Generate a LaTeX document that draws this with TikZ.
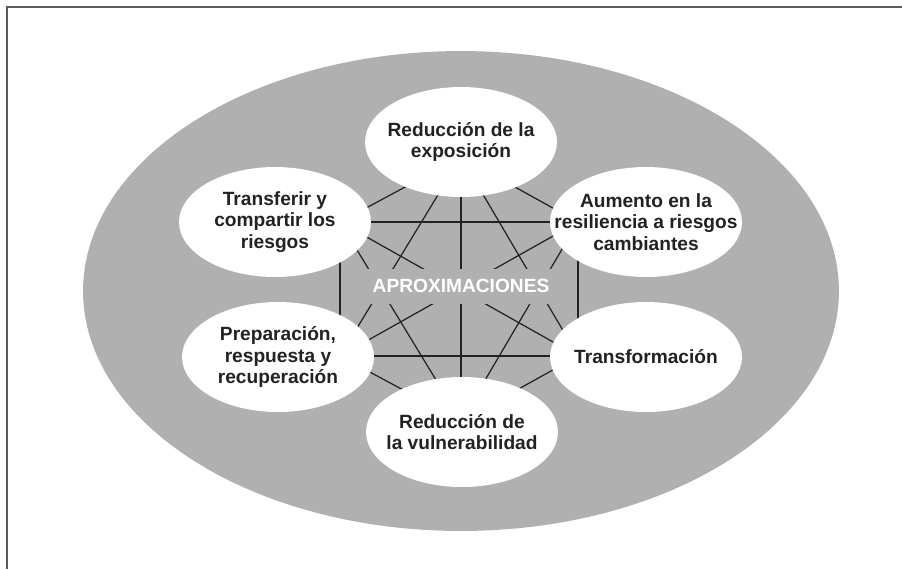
\documentclass[tikz,border=0pt]{standalone}
\usepackage{fontspec}
\setmainfont{Liberation Sans}
\usetikzlibrary{shapes.geometric}
\definecolor{ringgray}{RGB}{176,176,176}
\definecolor{inkgray}{RGB}{34,34,34}
\definecolor{framegray}{RGB}{90,90,90}
\tikzset{
  blob/.style={ellipse, fill=white, minimum width=3.84cm, minimum height=2.2cm, inner sep=0pt},
  txt/.style={align=center, font=\fontsize{10.9}{12.1}\selectfont\bfseries, text=inkgray, inner sep=0pt},
  link/.style={draw=inkgray, line width=0.7pt},
}
\begin{document}
\begin{tikzpicture}[x=0.02cm, y=-0.02cm]
  \useasboundingbox (0,0) rectangle (902,569);
  \draw[framegray, line width=1pt] (902,7) -| (7,569);
  \fill[ringgray] (461,291) ellipse [x radius=7.56cm, y radius=4.8cm];
  \coordinate (pT) at (461,157);
  \coordinate (pUL) at (340,222);
  \coordinate (pUR) at (578,222);
  \coordinate (pLL) at (340,356);
  \coordinate (pLR) at (578,356);
  \coordinate (pB) at (461,421);
  \foreach \a/\b in {pT/pUL, pT/pUR, pT/pLL, pT/pLR, pT/pB,
                     pUL/pUR, pUL/pLL, pUL/pLR, pUL/pB,
                     pUR/pLL, pUR/pLR, pUR/pB,
                     pLL/pLR, pLL/pB, pLR/pB}
    \draw[link] (\a) -- (\b);
  \node[blob] (top) at (461,142) {};
  \node[txt] (top-t) at (top) {Reducción de la\\exposición};
  \node[blob] (ul) at (275,222) {};
  \node[txt] (ul-t) at (ul) {Transferir y\\compartir los\\riesgos};
  \node[blob] (ur) at (646,222) {};
  \node[txt] (ur-t) at (ur) {Aumento en la\\resiliencia a riesgos\\cambiantes};
  \node[blob] (ll) at (278,357) {};
  \node[txt] (ll-t) at (ll) {Preparación,\\respuesta y\\recuperación};
  \node[blob] (lr) at (646,357) {};
  \node[txt] (lr-t) at (lr) {Transformación};
  \node[blob] (bot) at (462,432) {};
  \node[txt] (bot-t) at (bot) {Reducción de\\la vulnerabilidad};
  \node[txt, fill=ringgray, text=white, minimum width=3.9cm, minimum height=0.7cm] (approx) at (461,286) {APROXIMACIONES};
\end{tikzpicture}
\end{document}
